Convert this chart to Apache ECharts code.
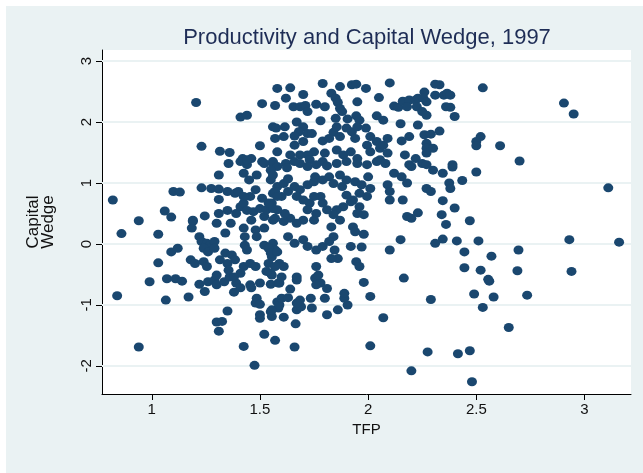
<!DOCTYPE html>
<html>
<head>
<meta charset="utf-8">
<script src="https://cdn.jsdelivr.net/npm/echarts@6/dist/echarts.min.js"></script>
<style>
  html, body { margin: 0; padding: 0; background: #fff; }
  #chart { position: absolute; left: 6px; top: 6px; width: 637px; height: 467px; }
</style>
</head>
<body>
<div id="chart"></div>
<script>
// axis range and tick positions
const xRange = [0.77, 3.215]
const yRange = [-2.46, 3.18]
const xTicks = [1, 1.5, 2, 2.5, 3]
const yTicks = [-2, -1, 0, 1, 2, 3]

// [TFP, capital wedge]
const points = [
  [0.82,0.72],[0.84,-0.85],[0.86,0.17],[0.94,0.38],[1.03,0.16],[1.06,0.54],[1.09,0.44],[1.10,0.86],
  [1.13,0.85],[1.03,-0.31],[1.09,-0.13],[1.12,-0.07],[1.19,0.37],[1.185,0.26],[0.99,-0.62],[0.94,-1.69],
  [1.065,-0.92],[1.07,-0.57],[1.11,-0.57],[1.14,-0.61],[1.17,-0.87],[1.22,-0.66],[1.245,-0.78],[1.26,-0.62],
  [1.29,-0.59],[1.30,-0.67],[1.335,-0.62],[1.36,-0.54],[1.38,-0.79],[1.39,-0.64],[1.41,-0.72],[1.455,-0.67],
  [1.46,-0.72],[1.50,-0.64],[1.55,-0.66],[1.555,-0.51],[1.585,-0.64],[1.35,-1.10],[1.30,-1.28],[1.325,-1.27],
  [1.31,-1.43],[1.425,-1.68],[1.475,-1.99],[1.485,-0.89],[1.48,-0.97],[1.50,-0.99],[1.50,-1.16],[1.50,-1.22],
  [1.55,-1.11],[1.555,-1.19],[1.58,-0.95],[1.585,-1.05],[1.52,-1.48],[1.57,-1.58],
  [1.98,-0.63],[2.165,-0.56],[2.01,-0.86],[2.29,-0.91],[2.07,-1.21],[2.01,-1.67],[2.275,-1.77],[2.20,-2.08],
  [1.66,-1.69],[1.665,-1.31],[1.61,-1.20],[1.555,-1.08],[1.81,-1.16],[1.86,-1.08],[1.905,-1.0],[1.89,-0.89],
  [1.89,-0.81],[1.74,-1.05],[1.735,-0.89],[1.80,-0.89],[1.67,-1.08],[1.69,-1.03],[1.685,-0.92],[1.67,-0.97],
  [1.59,-1.0],[1.60,-0.89],[1.63,-0.88],[1.59,-0.64],[1.64,-0.74],[1.67,-0.59],[1.755,-0.56],[1.78,-0.64],
  [1.81,-0.73],[1.76,-0.67],
  [2.56,-0.61],[2.49,-0.82],[2.58,-0.87],[2.735,-0.84],[2.53,-1.04],[2.65,-1.37],[2.415,-1.80],[2.47,-1.75],
  [2.48,-2.26],
  [2.70,1.36],[2.345,1.16],[2.39,1.26],[2.50,1.18],[2.375,1.0],[2.38,0.91],[2.435,1.04],[3.11,0.92],
  [2.345,0.71],[2.40,0.59],[2.34,0.48],[2.36,0.32],[2.47,0.38],[2.345,0.08],[2.41,0.05],[2.51,0.05],
  [2.93,0.07],[3.16,0.03],[2.445,-0.13],[2.57,-0.2],[2.695,-0.1],[2.445,-0.39],[2.52,-0.43],[2.69,-0.44],
  [2.94,-0.45],[2.555,-0.58],
  [2.33,2.61],[2.35,2.44],[2.365,2.47],[2.38,2.44],[2.53,2.56],[2.38,2.24],[2.40,2.09],[2.905,2.31],
  [2.95,2.13],[2.33,1.85],[2.52,1.76],[2.50,1.68],[2.50,1.61],[2.61,1.61],[2.39,1.30],
  [1.205,2.32],[1.58,2.55],[1.51,2.3],[1.57,2.27],[1.41,2.08],[1.44,2.11],[1.56,1.92],[1.575,1.90],
  [1.57,1.73],[1.50,1.61],[1.23,1.6],[1.315,1.52],[1.36,1.5],[1.42,1.40],[1.46,1.40],[1.51,1.35],
  [1.56,1.35],[1.355,1.32],[1.44,1.3],
  [1.64,2.56],[1.62,2.39],[1.70,2.45],[1.79,2.63],[1.87,2.58],[1.925,2.61],[1.945,2.62],[1.99,2.55],
  [2.10,2.64],[2.31,2.62],[1.83,2.47],[1.85,2.39],[1.86,2.32],[2.05,2.4],[1.95,2.33],[1.76,2.29],
  [1.80,2.25],[1.655,2.25],[1.686,2.25],[1.71,2.27],[1.72,2.17],[1.87,2.22],[1.88,2.17],[2.12,2.26],
  [2.14,2.24],[2.16,2.34],[2.19,2.36],[2.22,2.36],[2.23,2.39],[2.26,2.49],[2.255,2.39],[2.27,2.33],
  [2.225,2.25],[2.25,2.17],[2.27,2.11],[2.31,2.44],[2.36,2.25],[2.18,2.25],[1.78,2.02],[1.85,2.06],
  [1.905,2.05],[1.945,2.1],[1.96,2.03],[2.04,2.10],[2.07,2.03],[2.15,1.97],[2.23,1.95],[2.19,1.76],
  [2.26,1.79],[2.29,1.80],[2.155,1.69],[2.27,1.65],[2.27,1.57],[1.615,1.92],[1.61,1.76],[1.67,2.0],
  [1.70,1.92],[1.68,1.84],[1.72,1.81],[1.74,1.81],[1.66,1.77],[1.70,1.68],[1.66,1.62],[1.79,1.69],
  [1.84,1.83],[1.855,1.92],[1.82,1.73],[1.87,1.76],[1.90,1.90],[1.925,1.84],[1.94,1.73],[1.95,1.92],
  [1.99,1.90],[2.01,1.76],[1.995,1.62],[2.04,1.68],[2.055,1.57],[2.07,1.62],[2.09,1.73],[1.75,1.51],
  [1.72,1.46],[1.80,1.49],[1.855,1.54],[1.885,1.46],[1.92,1.51],[1.95,1.40],[2.01,1.51],[2.055,1.38],
  [2.09,1.49],[2.17,1.46],[2.22,1.40],[2.27,1.49],[2.30,1.57],[2.19,1.30],[2.25,1.32],[1.64,1.46],
  [1.685,1.46],[1.58,1.51],[1.56,1.32],[1.62,1.32],[1.685,1.32],[1.73,1.38],[1.79,1.35],[1.855,1.32],
  [1.90,1.35],
  [1.58,1.27],[1.625,1.25],[1.66,1.35],[1.72,1.27],[1.76,1.30],[1.81,1.28],[1.95,1.32],[1.995,1.30],
  [2.04,1.35],[2.08,1.32],[2.20,1.27],[2.27,1.30],[2.30,1.21],[2.12,1.16],[2.155,1.10],[2.18,1.0],
  [2.09,0.97],[2.27,0.91],[2.29,0.86],[2.10,0.86],[2.10,0.72],[2.16,0.72],[2.18,0.45],[2.20,0.42],
  [2.23,0.51],[2.15,0.07],[2.10,-0.1],[2.31,0.01],
  [1.55,1.05],[1.58,0.94],[1.61,0.99],[1.63,1.07],[1.56,0.83],[1.60,0.78],[1.63,0.86],[1.66,0.94],
  [1.685,0.89],[1.72,0.97],[1.75,1.02],[1.755,1.10],[1.79,1.05],[1.82,1.10],[1.84,0.99],[1.87,1.13],
  [1.88,0.94],[1.90,1.05],[1.94,1.02],[1.97,0.97],[2.0,1.10],[2.01,0.91],[1.995,0.78],[1.96,0.83],
  [1.93,0.72],[1.96,0.61],[1.95,0.50],[1.98,0.48],[1.93,0.28],[1.94,0.20],[1.98,0.16],[1.92,-0.04],
  [1.97,-0.05],[1.90,0.80],[1.92,0.69],[1.885,0.61],[1.855,0.56],[1.87,0.39],[1.84,0.48],[1.81,0.56],
  [1.79,0.67],[1.78,0.78],[1.75,0.78],[1.73,0.67],[1.70,0.72],[1.67,0.78],[1.72,0.56],[1.76,0.50],
  [1.75,0.39],[1.70,0.39],[1.67,0.34],[1.64,0.42],[1.615,0.50],[1.58,0.56],[1.555,0.67],[1.61,0.37],
  [1.57,0.42],[1.83,0.28],[1.84,0.12],[1.82,0.04],[1.63,0.12],[1.66,0.01],[1.70,0.07],[1.72,-0.04],
  [1.76,-0.1],[1.79,-0.04],[1.845,-0.1],[1.86,-0.24],[1.83,-0.24],[1.76,-0.37],[1.77,-0.51],[1.67,-0.54],
  [1.59,-0.32],[1.61,-0.37],[1.56,0.01],[1.57,-0.1],[1.555,-0.21],[1.945,-0.29],[1.96,-0.37],[1.55,-0.48],
  [1.60,-0.54],
  [1.31,1.13],[1.23,0.92],[1.275,0.91],[1.31,0.90],[1.35,0.86],[1.385,0.83],[1.40,0.86],[1.31,0.73],
  [1.245,0.46],[1.31,0.50],[1.35,0.55],[1.30,0.34],[1.365,0.34],[1.39,0.50],[1.41,0.61],[1.425,0.67],
  [1.44,0.55],[1.46,0.39],[1.47,0.53],[1.50,0.58],[1.52,0.45],[1.53,0.56],[1.56,0.58],[1.56,0.39],
  [1.54,0.67],[1.425,0.26],[1.43,0.12],[1.43,-0.02],[1.44,-0.1],[1.48,0.23],[1.52,0.26],[1.485,0.12],
  [1.34,0.18],[1.22,0.12],[1.23,0.04],[1.255,0.01],[1.27,-0.02],[1.29,0.04],[1.24,-0.07],[1.26,-0.13],
  [1.29,-0.07],[1.19,0.39],[1.18,-0.26],[1.20,-0.32],[1.24,-0.29],[1.255,-0.37],[1.315,-0.26],[1.34,-0.15],
  [1.37,-0.18],[1.385,-0.26],[1.35,-0.32],[1.425,-0.37],[1.455,-0.32],[1.48,-0.37],[1.355,-0.43],[1.41,-0.48],
  [1.30,-0.51],[1.38,-0.54],[1.52,-0.02],[1.54,-0.07],[1.55,-0.15],[1.58,-0.13],[1.54,-0.32],[1.57,-0.37],
  [1.53,-0.45],[1.41,1.35],[1.44,1.38],[1.425,1.16],[1.45,1.05],[1.485,1.13],[1.52,1.32],[1.55,1.21],
  [1.56,1.13],[1.57,0.86],[1.58,0.78],[1.51,0.75],[1.455,0.78],[1.425,0.78],[1.48,0.89]
]

const chart = echarts.init(document.getElementById('chart'))
const fontFamily = 'Liberation Sans, Arial, sans-serif'
const tickFont = { fontFamily, fontSize: 15, color: '#111' }

// horizontal grid lines, drawn under the points
const gridSeries = yTicks.map(v => ({
  type: 'line', z: 1, silent: true, symbol: 'none',
  data: [[xRange[0], v], [xRange[1], v]],
  lineStyle: { color: '#eaf2f3', width: 2 }
}))

chart.setOption({
  backgroundColor: '#eaf2f3',
  animation: false,
  title: {
    text: 'Productivity and Capital Wedge, 1997',
    left: 356, top: 16, textAlign: 'center',
    textStyle: { fontFamily, fontSize: 22, fontWeight: 'normal', color: '#1e2d56' }
  },
  grid: { left: 96, right: 12, top: 44, bottom: 79, show: true, backgroundColor: '#fff', borderWidth: 0 },
  xAxis: {
    type: 'value', min: xRange[0], max: xRange[1],
    name: 'TFP', nameLocation: 'middle', nameGap: 24,
    nameTextStyle: { fontFamily, fontSize: 15, color: '#111' },
    axisLine: { show: true, onZero: false, lineStyle: { color: '#000', width: 1 } },
    axisTick: { show: true, length: 6, customValues: xTicks, lineStyle: { color: '#000' } },
    axisLabel: { customValues: xTicks, margin: 8, ...tickFont },
    splitLine: { show: false }
  },
  yAxis: {
    type: 'value', min: yRange[0], max: yRange[1],
    name: 'Capital\nWedge', nameLocation: 'middle', nameRotate: 90, nameGap: 46,
    nameTextStyle: { fontFamily, fontSize: 17, lineHeight: 15, color: '#111' },
    axisLine: { show: true, onZero: false, lineStyle: { color: '#000', width: 1 } },
    axisTick: { show: true, length: 6, customValues: yTicks, lineStyle: { color: '#000' } },
    axisLabel: { customValues: yTicks, rotate: 90, margin: 8, ...tickFont },
    splitLine: { show: false }
  },
  series: [
    ...gridSeries,
    {
      type: 'scatter', z: 3, data: points,
      symbol: 'circle', symbolSize: [10, 9],
      itemStyle: { color: '#1a476f', opacity: 1 }
    }
  ]
})
</script>
</body>
</html>
